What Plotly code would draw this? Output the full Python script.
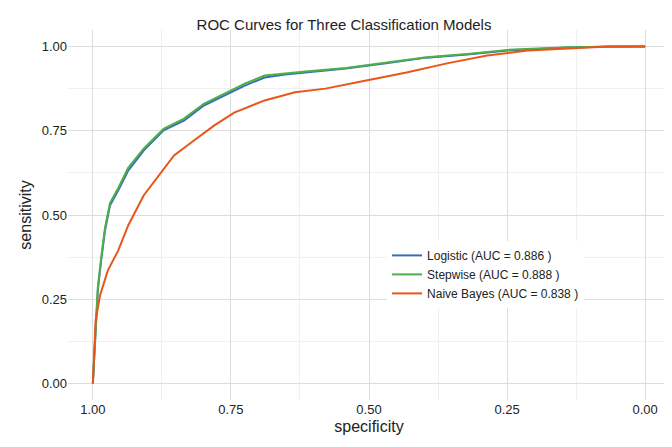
import plotly.graph_objects as go

log_spec = [1.0, 0.996, 0.991, 0.985, 0.978, 0.969, 0.954, 0.936, 0.908, 0.872, 0.835, 0.799, 0.762, 0.725, 0.689, 0.652, 0.615, 0.542, 0.469, 0.396, 0.322, 0.249, 0.139, 0.066, 0.0]
log_sens = [0.0, 0.128, 0.276, 0.365, 0.454, 0.528, 0.573, 0.632, 0.691, 0.751, 0.780, 0.825, 0.855, 0.884, 0.908, 0.917, 0.923, 0.935, 0.950, 0.967, 0.976, 0.988, 0.997, 1.0, 1.0]
step_spec = [1.0, 0.996, 0.991, 0.985, 0.978, 0.969, 0.954, 0.936, 0.908, 0.872, 0.835, 0.799, 0.762, 0.725, 0.689, 0.652, 0.615, 0.542, 0.469, 0.396, 0.322, 0.249, 0.139, 0.066, 0.0]
step_sens = [0.0, 0.135, 0.285, 0.372, 0.462, 0.535, 0.580, 0.640, 0.697, 0.756, 0.786, 0.830, 0.860, 0.890, 0.914, 0.921, 0.926, 0.936, 0.951, 0.968, 0.978, 0.990, 0.998, 1.0, 1.0]
nb_spec = [1.0, 0.995, 0.987, 0.973, 0.954, 0.936, 0.908, 0.881, 0.853, 0.817, 0.780, 0.744, 0.689, 0.634, 0.579, 0.505, 0.432, 0.359, 0.286, 0.212, 0.139, 0.066, 0.0]
nb_sens = [0.0, 0.187, 0.261, 0.335, 0.395, 0.469, 0.558, 0.617, 0.677, 0.721, 0.766, 0.804, 0.840, 0.864, 0.875, 0.899, 0.923, 0.950, 0.973, 0.988, 0.994, 1.0, 1.0]

SERIES = [
    ("Logistic (AUC = 0.886 )", log_spec, log_sens, "#3B6DB3"),
    ("Stepwise (AUC = 0.888 )", step_spec, step_sens, "#4DAF4A"),
    ("Naive Bayes (AUC = 0.838 )", nb_spec, nb_sens, "#E8561A"),
]

fig = go.Figure()
for name, x, y, color in SERIES:
    fig.add_trace(go.Scatter(x=x, y=y, mode="lines", name=name,
                             line=dict(color=color, width=2)))

fig.update_layout(
    width=672, height=447,
    margin=dict(l=60, r=10, t=22, b=55),
    plot_bgcolor="white", paper_bgcolor="white",
    font=dict(family="Liberation Sans, Arial", size=13, color="#222"),
    title=dict(text="ROC Curves for Three Classification Models", x=0.5, y=0.975,
               font=dict(size=15)),
    legend=dict(x=0.53, y=0.43, xanchor="left", yanchor="top", bgcolor="white",
                font=dict(size=12), tracegroupgap=4),
)
fig.update_xaxes(title_text="specificity", range=[1.045, -0.045],
                 tickvals=[1, 0.75, 0.5, 0.25, 0], ticktext=["1.00", "0.75", "0.50", "0.25", "0.00"],
                 gridcolor="#DDDDDD", zeroline=False, title_standoff=4,
                 minor=dict(tickvals=[0.875, 0.625, 0.375, 0.125], showgrid=True, gridcolor="#F0F0F0"))
fig.update_yaxes(title_text="sensitivity", range=[-0.049, 1.049],
                 tickvals=[0, 0.25, 0.5, 0.75, 1], ticktext=["0.00", "0.25", "0.50", "0.75", "1.00"],
                 gridcolor="#DDDDDD", zeroline=False, title_standoff=6,
                 minor=dict(tickvals=[0.125, 0.375, 0.625, 0.875], showgrid=True, gridcolor="#F0F0F0"))

fig.write_html("out.html")
